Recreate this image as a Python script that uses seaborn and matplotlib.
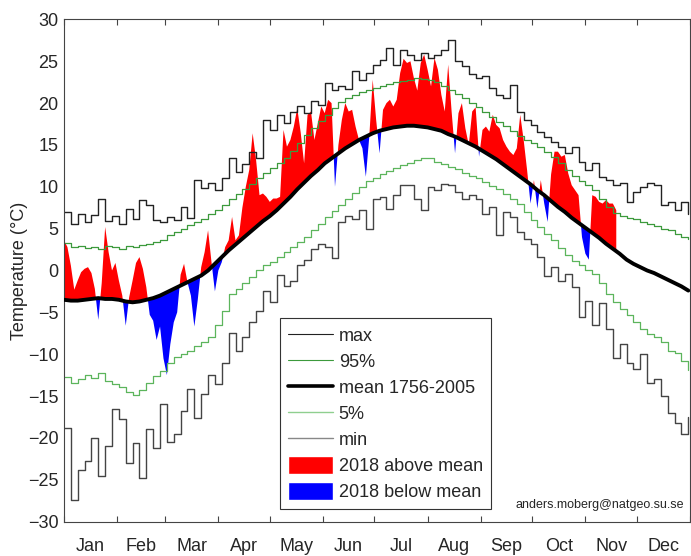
import numpy as np
import matplotlib
matplotlib.use('Agg')
import matplotlib.pyplot as plt
import seaborn as sns
from matplotlib.lines import Line2D
from matplotlib.patches import Patch

# day of year (every 4th day) for the climatology
days = np.arange(0, 365, 4)

t_max = [7.0, 5.5, 6.8, 5.8, 6.6, 8.5, 5.9, 6.5, 5.5, 7.4,
         6.2, 8.4, 7.8, 6.0, 5.8, 6.4, 6.0, 7.6, 6.3, 10.8,
         9.8, 10.5, 9.6, 11.0, 13.4, 11.8, 12.7, 14.2, 13.5, 18.0,
         16.8, 18.6, 17.6, 19.0, 19.6, 18.8, 20.2, 19.8, 22.4, 21.6,
         22.0, 21.7, 23.8, 22.8, 23.6, 24.6, 25.2, 26.6, 24.6, 26.4,
         25.7, 25.2, 26.0, 25.4, 25.8, 26.3, 27.5, 25.0, 24.4, 23.5,
         23.0, 23.2, 21.8, 21.0, 20.6, 22.2, 19.0, 18.0, 17.4, 16.6,
         16.0, 15.4, 14.8, 14.0, 14.8, 13.0, 12.0, 12.8, 11.2, 10.8,
         10.2, 10.4, 8.2, 9.4, 10.0, 10.4, 10.2, 7.8, 8.2, 7.2,
         8.2, 6.8]

t_p95 = [3.3, 2.8, 2.9, 2.7, 2.8, 2.6, 2.9, 2.8, 2.6, 2.9,
         2.8, 3.0, 3.2, 3.4, 3.7, 4.2, 4.6, 5.0, 5.4, 5.8,
         6.2, 6.7, 7.2, 7.8, 8.5, 9.2, 9.7, 10.3, 11.0, 11.6,
         12.2, 12.8, 13.5, 14.3, 15.2, 16.2, 17.0, 17.9, 18.6, 19.4,
         20.1, 20.6, 21.0, 21.3, 21.6, 21.8, 22.1, 22.3, 22.5, 22.6,
         22.8, 23.0, 22.9, 22.8, 22.5, 22.1, 21.6, 21.1, 20.6, 20.0,
         19.5, 18.9, 18.3, 17.8, 17.3, 16.7, 16.1, 15.6, 15.2, 14.7,
         14.2, 13.6, 12.8, 12.0, 11.3, 10.7, 10.2, 9.6, 8.6, 7.6,
         6.9, 6.5, 6.3, 6.2, 5.8, 5.5, 5.3, 5.0, 4.8, 4.4,
         4.0, 3.8]

t_mean = [-3.5, -3.6, -3.6, -3.5, -3.4, -3.3, -3.4, -3.4, -3.5, -3.7,
          -3.8, -3.7, -3.5, -3.3, -3.0, -2.6, -2.2, -1.8, -1.4, -1.0,
          -0.6, 0.0, 0.8, 1.6, 2.4, 3.1, 3.8, 4.5, 5.2, 5.9,
          6.5, 7.2, 8.0, 8.8, 9.7, 10.5, 11.3, 12.0, 12.8, 13.4,
          14.0, 14.6, 15.1, 15.6, 16.0, 16.4, 16.7, 16.9, 17.1, 17.2,
          17.3, 17.3, 17.2, 17.1, 16.9, 16.7, 16.3, 16.0, 15.6, 15.2,
          14.8, 14.3, 13.8, 13.3, 12.7, 12.1, 11.5, 10.9, 10.3, 9.6,
          9.0, 8.3, 7.6, 7.0, 6.3, 5.7, 5.1, 4.5, 3.9, 3.2,
          2.6, 2.0, 1.3, 0.8, 0.4, 0.0, -0.3, -0.7, -1.1, -1.5,
          -1.9, -2.4]

t_p05 = [-12.7, -13.5, -13.0, -12.5, -12.9, -12.3, -13.2, -13.6, -13.9, -14.5,
         -14.9, -14.3, -13.4, -12.6, -12.0, -11.0, -10.3, -10.0, -9.6, -9.0,
         -8.5, -7.9, -6.5, -4.8, -2.8, -2.2, -1.5, -0.8, 0.0, 0.6,
         1.0, 1.6, 2.2, 2.8, 3.4, 4.0, 4.8, 5.6, 6.4, 7.1,
         7.8, 8.5, 9.3, 10.0, 10.7, 11.0, 11.5, 11.9, 12.2, 12.6,
         12.9, 13.2, 13.5, 13.4, 13.0, 12.7, 12.4, 12.1, 11.7, 11.3,
         11.0, 10.6, 10.1, 9.7, 9.2, 8.6, 8.0, 7.0, 6.0, 5.2,
         4.4, 3.6, 2.7, 1.9, 1.1, 0.6, 0.1, -0.4, -1.5, -2.8,
         -3.8, -4.6, -5.3, -6.2, -7.0, -7.6, -8.0, -8.6, -9.6, -9.9,
         -10.8, -11.9]

t_min = [-18.8, -27.4, -23.8, -22.8, -20.0, -24.6, -21.0, -16.6, -17.8, -23.0,
         -20.6, -24.8, -19.0, -21.2, -16.0, -20.5, -19.5, -16.8, -14.2, -17.6,
         -14.8, -12.5, -13.6, -11.0, -7.5, -9.6, -8.0, -6.2, -4.8, -2.5,
         -3.8, -0.5, -1.8, -1.2, 0.6, 1.3, 2.6, 3.2, 2.8, 1.5,
         5.8, 6.5, 6.2, 7.2, 5.0, 8.6, 8.8, 7.4, 9.0, 10.2,
         10.2, 8.5, 7.2, 10.0, 9.6, 10.3, 10.2, 9.4, 8.6, 9.0,
         8.6, 6.8, 7.6, 4.2, 7.0, 6.4, 4.6, 3.8, 3.2, 1.6,
         -0.6, 0.4, -1.2, -0.4, -2.0, -5.5, -3.6, -6.5, -3.9, -7.0,
         -10.5, -8.8, -11.0, -11.8, -10.0, -13.4, -13.0, -15.0, -17.0, -18.2,
         -19.5, -17.5]

# 2018 observations (every 2nd day, up to 20 Nov)
days_2018 = np.arange(0, 323, 2)
t_2018 = [3.6, 2.8, 0.6, -2.3, -1.2, -0.2, 0.2, 0.4, -0.3, -2.2,
          -5.9, -1.5, 5.2, 2.2, 0.0, 0.9, -1.2, -3.0, -6.6, -3.2,
          -1.2, 0.9, 1.6, 0.2, -2.0, -5.3, -6.0, -8.3, -6.7, -10.5,
          -12.5, -8.8, -6.2, -5.0, -0.5, 0.8, -1.4, -3.0, -6.7, -3.5,
          0.4, 2.2, 4.8, 1.0, -2.5, 0.0, 1.0, 2.8, 3.6, 6.4,
          3.6, 4.2, 7.5, 10.0, 12.0, 16.4, 13.2, 9.0, 9.2, 8.8,
          8.2, 8.6, 8.6, 8.8, 16.8, 14.8, 15.6, 17.2, 19.4, 16.5,
          12.8, 18.6, 19.0, 15.6, 17.6, 19.6, 18.8, 20.4, 20.0, 10.0,
          15.0, 18.0, 20.0, 19.0, 19.2, 17.2, 15.6, 14.6, 11.2, 16.0,
          22.8, 18.0, 14.0, 19.2, 20.0, 20.4, 19.6, 20.4, 23.6, 25.3,
          24.8, 25.0, 23.0, 21.5, 24.8, 25.8, 24.0, 22.0, 25.4, 24.0,
          21.0, 19.0, 24.6, 19.0, 14.0, 18.8, 20.0, 17.0, 15.0, 19.0,
          19.5, 13.6, 16.8, 17.2, 16.6, 18.6, 17.4, 17.0, 15.6, 14.8,
          14.2, 13.8, 14.6, 18.6, 15.6, 12.0, 8.0, 10.8, 7.4, 10.8,
          8.0, 5.8, 11.5, 14.2, 14.2, 13.6, 13.8, 11.6, 10.2, 9.6,
          9.0, 4.0, 2.0, 1.3, 9.0, 8.8, 8.2, 8.0, 8.4, 8.0,
          8.0, 7.2]

months = ['Jan', 'Feb', 'Mar', 'Apr', 'May', 'Jun',
          'Jul', 'Aug', 'Sep', 'Oct', 'Nov', 'Dec']
month_starts = [0, 31, 59, 90, 120, 151, 181, 212, 243, 273, 304, 334, 365]

sns.set_style('white')
plt.rcParams['font.family'] = ['Liberation Sans', 'DejaVu Sans']

fig = plt.figure(figsize=(6.91, 5.56), dpi=100)
ax = fig.add_axes([0.0926, 0.062, 0.906, 0.903])

# 2018 anomalies against the mean line
t18 = np.array(t_2018)
mean18 = np.interp(days_2018, days, t_mean)
ax.fill_between(days_2018, t18, mean18, where=t18 >= mean18, interpolate=True,
                color='#ff0000', lw=0, zorder=1)
ax.fill_between(days_2018, t18, mean18, where=t18 <= mean18, interpolate=True,
                color='#0000ff', lw=0, zorder=1)

c_max, c_p95, c_p05, c_min = '#222222', '#3c9a3c', '#5cb55c', '#444444'
sns.lineplot(x=days, y=t_max, ax=ax, color=c_max, lw=1.0, drawstyle='steps-post', zorder=2)
sns.lineplot(x=days, y=t_p95, ax=ax, color=c_p95, lw=0.9, drawstyle='steps-post', zorder=2)
sns.lineplot(x=days, y=t_p05, ax=ax, color=c_p05, lw=0.9, drawstyle='steps-post', zorder=2)
sns.lineplot(x=days, y=t_min, ax=ax, color=c_min, lw=1.0, drawstyle='steps-post', zorder=2)
sns.lineplot(x=days, y=t_mean, ax=ax, color='black', lw=2.8, zorder=3)

ax.set_xlim(0, 365)
ax.set_ylim(-30, 30)
ax.set_yticks(range(-30, 31, 5))
ax.set_xticks(month_starts)
ax.set_xticklabels([])
mids = [(a + b) / 2 for a, b in zip(month_starts[:-1], month_starts[1:])]
ax.set_xticks(mids, minor=True)
ax.set_xticklabels(months, minor=True)
ax.tick_params(axis='x', which='major', direction='in', length=4.5, width=0.8,
               color='#444444', top=True, bottom=True)
ax.tick_params(axis='x', which='minor', length=0, pad=12, labelsize=13)
ax.tick_params(axis='y', length=0, pad=4, labelsize=13)
for sp in ax.spines.values():
    sp.set_color('#444444')
    sp.set_linewidth(0.8)

ax.set_xlabel('')
ax.set_ylabel('Temperature (°C)', fontsize=13, labelpad=0)

handles = [Line2D([], [], color=c_max, lw=0.8),
           Line2D([], [], color=c_p95, lw=0.8),
           Line2D([], [], color='black', lw=2.6),
           Line2D([], [], color='#8fcf8f', lw=1.0),
           Line2D([], [], color='#888888', lw=1.0),
           Patch(facecolor='#ff0000'),
           Patch(facecolor='#0000ff')]
labels = ['max', '95%', 'mean 1756-2005', '5%', 'min',
          '2018 above mean', '2018 below mean']
leg = ax.legend(handles, labels, loc='upper left', bbox_to_anchor=(0.345, 0.405),
                fontsize=13, frameon=True, fancybox=False, framealpha=1,
                edgecolor='#333333', handlelength=2.5, handleheight=1.1,
                handletextpad=0.3, labelspacing=0.4, borderpad=0.45,
                borderaxespad=0)
leg.get_frame().set_linewidth(0.8)

ax.text(0.856, 0.033, 'anders.moberg@natgeo.su.se', transform=ax.transAxes,
        ha='center', va='center', fontsize=9)

fig.savefig('out.png', dpi=100)
